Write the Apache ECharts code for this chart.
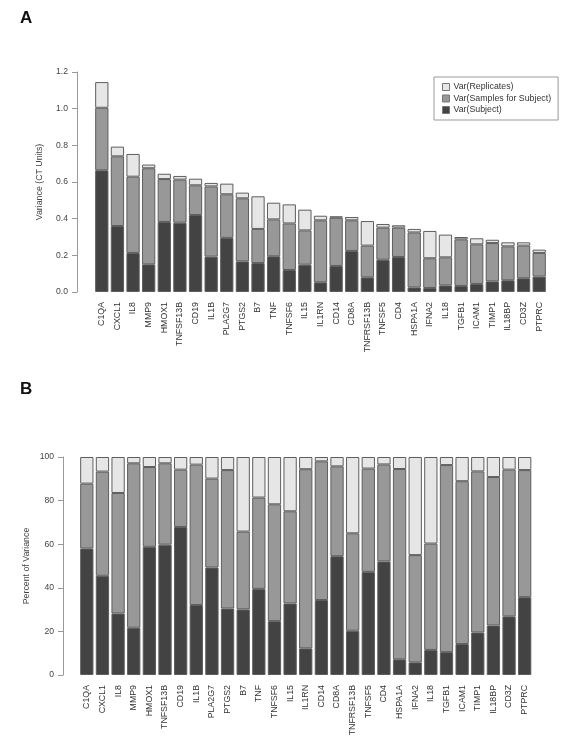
<!DOCTYPE html>
<html>
<head>
<meta charset="utf-8">
<script src="https://cdn.jsdelivr.net/npm/echarts@6/dist/echarts.min.js"></script>
<style>html,body{margin:0;padding:0;background:#fff}#c{width:568px;height:742px}</style>
</head>
<body>
<div id="c"></div>
<script>
const genes = ['C1QA','CXCL1','IL8','MMP9','HMOX1','TNFSF13B','CD19','IL1B','PLA2G7','PTGS2','B7','TNF','TNFSF6','IL15','IL1RN','CD14','CD8A','TNFRSF13B','TNFSF5','CD4','HSPA1A','IFNA2','IL18','TGFB1','ICAM1','TIMP1','IL18BP','CD3Z','PTPRC'];
// Panel A: variance components (CT units)
const varSubject    = [0.664,0.36,0.213,0.151,0.382,0.378,0.42,0.193,0.295,0.167,0.158,0.195,0.12,0.149,0.053,0.142,0.224,0.08,0.176,0.191,0.025,0.022,0.036,0.033,0.044,0.058,0.064,0.075,0.084];
const varSamples    = [0.341,0.38,0.416,0.524,0.234,0.235,0.162,0.383,0.238,0.344,0.186,0.201,0.254,0.187,0.338,0.263,0.167,0.173,0.175,0.16,0.30,0.162,0.153,0.254,0.216,0.209,0.185,0.178,0.129];
const varReplicates = [0.14,0.053,0.124,0.02,0.029,0.02,0.036,0.019,0.058,0.031,0.178,0.091,0.104,0.113,0.025,0.008,0.018,0.134,0.02,0.013,0.019,0.149,0.124,0.013,0.033,0.018,0.022,0.018,0.018];
// Panel B: percent of variance
const pctSubject    = [58.0,45.5,28.2,21.7,58.8,59.8,67.9,32.1,49.3,30.5,30.1,39.5,24.7,32.8,12.2,34.4,54.5,20.3,47.3,52.1,7.2,5.8,11.5,10.5,14.2,19.5,22.7,26.9,35.7];
const pctSamples    = [29.8,47.8,55.3,75.4,36.6,37.3,26.3,64.4,40.8,63.5,35.7,41.9,53.6,42.3,82.2,63.6,41.2,44.7,47.4,44.5,87.3,49.2,48.8,85.8,74.7,73.9,68.1,67.3,58.3];
const pctReplicates = [12.2,6.7,16.5,2.9,4.6,2.9,5.8,3.5,9.9,6.0,34.2,18.6,21.7,24.9,5.6,2.0,4.3,35.0,5.3,3.4,5.5,45.0,39.7,3.7,11.1,6.6,9.2,5.8,6.0];
const ticksA = [0, 0.2, 0.4, 0.6, 0.8, 1.0, 1.2];
const ticksB = [0, 20, 40, 60, 80, 100];

const names = ['Var(Subject)','Var(Samples for Subject)','Var(Replicates)'];
const colors = ['#434343','#989898','#e6e6e6'];
const FONT = 'Liberation Sans, Arial, sans-serif';

const chart = echarts.init(document.getElementById('c'), null, {renderer:'canvas'});

function xAx(gi){
  return {type:'category', gridIndex:gi, data:genes,
    axisLine:{show:false}, axisTick:{show:false},
    axisLabel:{interval:0, rotate:90, fontSize:8.8, color:'#333', fontFamily:FONT, margin:10}};
}
function yAx(gi, max, interval, fmt, off){
  return {type:'value', gridIndex:gi, min:0, max:max, interval:interval, offset:off,
    splitLine:{show:false},
    axisLine:{show:true, lineStyle:{color:'#999', width:1}},
    axisTick:{show:true, length:5, lineStyle:{color:'#999'}},
    axisLabel:{fontSize:8.6, color:'#444', fontFamily:FONT, margin:9, formatter:fmt}};
}
function bar(name, data, gi, stack, color){
  return {name:name, type:'bar', stack:stack, xAxisIndex:gi, yAxisIndex:gi, data:data,
    barCategoryGap:'15%', itemStyle:{color:color, borderColor:'#5e5e5e', borderWidth:1},
    emphasis:{disabled:true}, animation:false};
}

chart.setOption({
  animation:false,
  backgroundColor:'#fff',
  grid:[
    {left:94, top:72, width:453, height:220},
    {left:79, top:457, width:453.5, height:218}
  ],
  xAxis:[xAx(0), xAx(1)],
  yAxis:[
    yAx(0, ticksA[ticksA.length-1], ticksA[1]-ticksA[0], v=>v.toFixed(1), 17),
    yAx(1, ticksB[ticksB.length-1], ticksB[1]-ticksB[0], v=>String(v), 16)
  ],
  legend:{
    data:['Var(Replicates)','Var(Samples for Subject)','Var(Subject)'],
    orient:'vertical', left:434, top:77, itemWidth:7, itemHeight:7, itemGap:1.5,
    icon:'rect', borderColor:'#999', borderWidth:1, padding:[5,7,5,8],
    selectedMode:false,
    textStyle:{fontSize:8.8, color:'#333', fontFamily:FONT, lineHeight:10, padding:[0,0,0,-1]},
    itemStyle:{borderColor:'#777', borderWidth:1}
  },
  graphic:[
    {type:'text', left:20, top:10, style:{text:'A', font:'bold 17px '+FONT, fill:'#111'}},
    {type:'text', left:20, top:381, style:{text:'B', font:'bold 17px '+FONT, fill:'#111'}},
    {type:'text', x:40, y:182, rotation:Math.PI/2, style:{text:'Variance (CT Units)', font:'8.8px '+FONT, fill:'#444', textAlign:'center', textVerticalAlign:'middle'}},
    {type:'text', x:27, y:566, rotation:Math.PI/2, style:{text:'Percent of Variance', font:'8.8px '+FONT, fill:'#444', textAlign:'center', textVerticalAlign:'middle'}}
  ],
  series:[
    bar(names[0], varSubject, 0, 'a', colors[0]),
    bar(names[1], varSamples, 0, 'a', colors[1]),
    bar(names[2], varReplicates, 0, 'a', colors[2]),
    bar(names[0], pctSubject, 1, 'b', colors[0]),
    bar(names[1], pctSamples, 1, 'b', colors[1]),
    bar(names[2], pctReplicates, 1, 'b', colors[2])
  ]
});
</script>
</body>
</html>
